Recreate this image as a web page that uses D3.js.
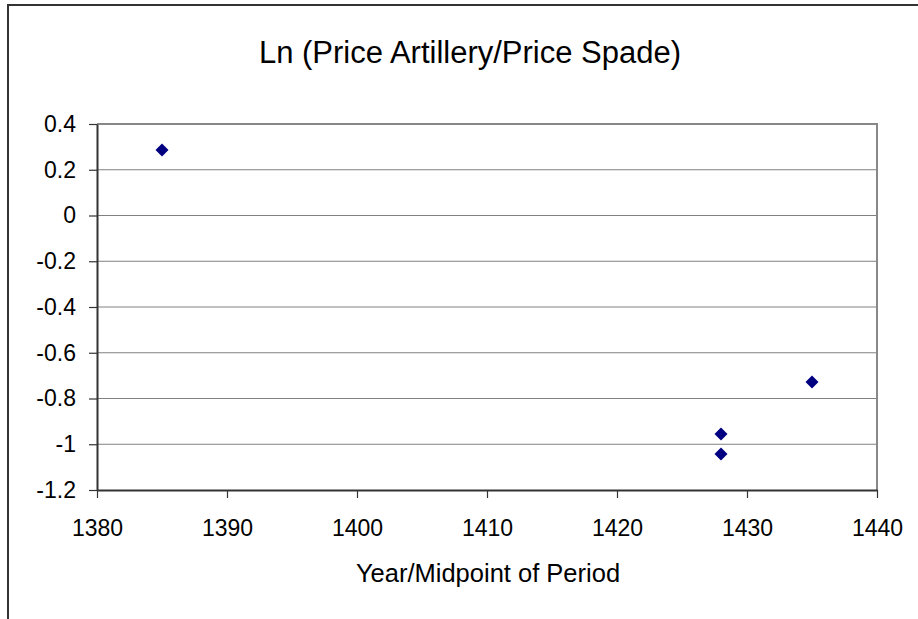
<!DOCTYPE html>
<html>
<head>
<meta charset="utf-8">
<script src="https://cdn.jsdelivr.net/npm/d3@7"></script>
<style>
  html, body { margin: 0; padding: 0; background: #fff; }
  svg { display: block; font-family: "Liberation Sans", Arial, sans-serif; }
</style>
</head>
<body>
<svg id="chart" width="918" height="619"></svg>
<script>
const years = [1385, 1428, 1428, 1435];
const lnRatio = [0.286, -0.955, -1.043, -0.728];
const xTicks = [1380, 1390, 1400, 1410, 1420, 1430, 1440];
const xTickLabels = ["1380", "1390", "1400", "1410", "1420", "1430", "1440"];
const yTicks = [0.4, 0.2, 0, -0.2, -0.4, -0.6, -0.8, -1, -1.2];
const yTickLabels = ["0.4", "0.2", "0", "-0.2", "-0.4", "-0.6", "-0.8", "-1", "-1.2"];
const titleText = "Ln (Price Artillery/Price Spade)";
const xTitleText = "Year/Midpoint of Period";

const svg = d3.select("#chart");
const W = 918, H = 619;
const plot = { left: 97, right: 877, top: 124, bottom: 490 };

// outer chart border (extends beyond the right/bottom edge)
svg.append("rect")
  .attr("x", 8).attr("y", 5)
  .attr("width", W + 10).attr("height", H + 10)
  .attr("fill", "#fff").attr("stroke", "#333").attr("stroke-width", 2);

const x = d3.scaleLinear().domain([1380, 1440]).range([plot.left, plot.right]);
const y = d3.scaleLinear().domain([-1.2, 0.4]).range([plot.bottom, plot.top]);

// gridlines
svg.append("g").selectAll("line").data(yTicks.filter(d => d !== -1.2 && d !== 0.4)).join("line")
  .attr("x1", plot.left).attr("x2", plot.right)
  .attr("y1", d => y(d)).attr("y2", d => y(d))
  .attr("stroke", "#808080").attr("stroke-width", 1);

// plot area border top/right
svg.append("path")
  .attr("d", `M${plot.left},${plot.top}H${plot.right}V${plot.bottom}`)
  .attr("fill", "none").attr("stroke", "#888").attr("stroke-width", 2);

// y axis
const yAxis = d3.axisLeft(y).tickValues(yTicks)
  .tickFormat((d, i) => yTickLabels[i]).tickSize(8).tickPadding(13).tickSizeOuter(0);
const gy = svg.append("g").attr("transform", `translate(${plot.left},0)`).call(yAxis);
gy.select(".domain").attr("stroke", "#333").attr("stroke-width", 2);
gy.selectAll(".tick line").attr("stroke", "#333").attr("stroke-width", 1.2);
gy.selectAll("text").attr("font-size", 23).attr("fill", "#000").attr("font-family", null);

// x axis
const xAxis = d3.axisBottom(x).tickValues(xTicks)
  .tickFormat((d, i) => xTickLabels[i]).tickSize(8).tickSizeOuter(0);
const gx = svg.append("g").attr("transform", `translate(0,${plot.bottom})`).call(xAxis);
gx.select(".domain").attr("stroke", "#333").attr("stroke-width", 2);
gx.selectAll(".tick line").attr("stroke", "#333").attr("stroke-width", 1.2);
gx.selectAll("text").attr("font-size", 23).attr("fill", "#000")
  .attr("dy", null).attr("y", 46).attr("font-family", null);
svg.selectAll(".tick text").attr("font-family", "Liberation Sans, Arial, sans-serif");
gx.attr("font-family", null); gy.attr("font-family", null);

// points
const pts = years.map((d, i) => ({ x: d, y: lnRatio[i] }));
svg.append("g").selectAll("path").data(pts).join("path")
  .attr("d", d3.symbol(d3.symbolSquare, 85))
  .attr("transform", d => `translate(${x(d.x)},${y(d.y)}) rotate(45)`)
  .attr("fill", "#000080");

// title
svg.append("text")
  .attr("x", 470).attr("y", 63)
  .attr("text-anchor", "middle").attr("font-size", 31).attr("fill", "#000")
  .text(titleText);

// x axis title
svg.append("text")
  .attr("x", 488).attr("y", 582)
  .attr("text-anchor", "middle").attr("font-size", 25.5).attr("fill", "#000")
  .text(xTitleText);
</script>
</body>
</html>
